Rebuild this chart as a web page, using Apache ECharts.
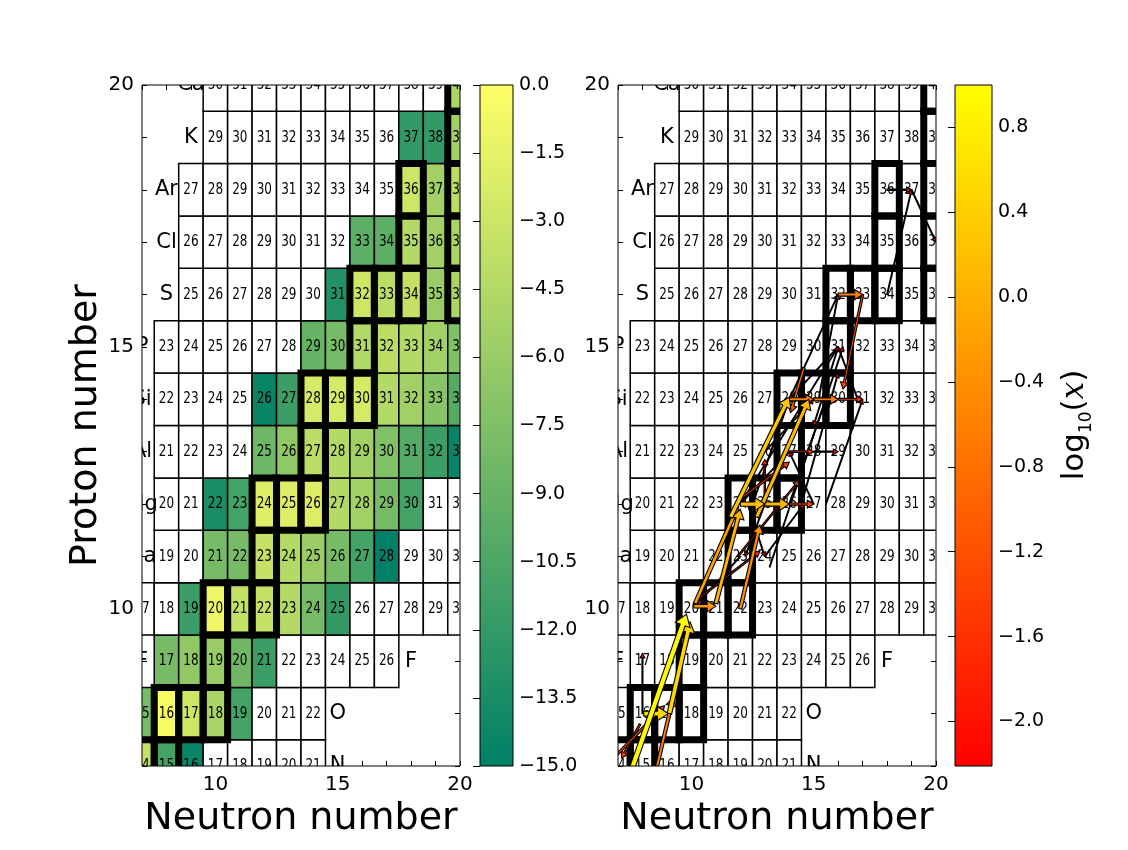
<!DOCTYPE html>
<html>
<head>
<meta charset="utf-8">
<script src="https://cdn.jsdelivr.net/npm/echarts@6/dist/echarts.min.js"></script>
<style>
html, body { margin: 0; padding: 0; background: #fff; }
#chart { width: 1128px; height: 850px; }
</style>
</head>
<body>
<div id="chart"></div>
<script>
// rows of the nuclide chart (proton number, symbol, first neutron number shown)
var rowZ      = [7, 8, 9, 10, 11, 12, 13, 14, 15, 16, 17, 18, 19, 20];
var rowSymbol = ['N', 'O', 'F', 'Ne', 'Na', 'Mg', 'Al', 'Si', 'P', 'S', 'Cl', 'Ar', 'K', 'Ca'];
var rowFirstN = [7, 7, 8, 7, 8, 8, 8, 8, 8, 9, 9, 9, 10, 10];

// log10 abundance per row, one entry per neutron number from rowFirstN (null = not produced)
var logX7  = [-3.5, -11.0, -14.5, null, null, null, null, null];
var logX8  = [-8.0, -0.5, -3.0, -5.0, -11.0, null, null, null];
var logX9  = [-8.0, -6.5, -6.0, -8.5, -11.5, null, null, null, null, null];
var logX10 = [null, null, -11.5, -1.0, -3.5, -3.5, -4.5, -8.0, -12.0, null, null, null, null, null];
var logX11 = [null, null, -8.0, -8.0, -3.5, -4.5, -6.0, -8.0, -11.0, -15.0, null, null, null];
var logX12 = [null, null, -13.5, -11.0, -2.0, -2.0, -2.0, -4.5, -5.5, -8.0, -11.0, null, null];
var logX13 = [null, null, null, null, -8.5, -6.5, -4.0, -4.5, -5.5, -7.5, -10.0, -11.5, -14.5];
var logX14 = [null, null, null, null, -14.5, -11.5, -2.5, -2.5, -2.5, -4.5, -5.5, -7.0, -10.0];
var logX15 = [null, null, null, null, null, null, -9.0, -8.0, -4.5, -4.0, -4.5, -5.5, -7.5];
var logX16 = [null, null, null, null, null, null, -13.0, -3.0, -4.0, -3.5, -6.0, -5.0];
var logX17 = [null, null, null, null, null, null, null, -9.5, -9.5, -4.5, -5.5, -5.0];
var logX18 = [null, null, null, null, null, null, null, null, null, -3.0, -5.5, -4.0];
var logX19 = [null, null, null, null, null, null, null, null, -12.0, -12.0, -5.5];
var logX20 = [null, null, null, null, null, null, null, null, null, null, -5.0];
var logXRows = [logX7, logX8, logX9, logX10, logX11, logX12, logX13, logX14,
                logX15, logX16, logX17, logX18, logX19, logX20];

// stable nuclei (thick boxes)
var stableN = [7, 8, 8, 9, 10, 10, 10, 11, 12, 12, 12, 13, 14, 14, 14, 15, 16, 16, 16, 17, 18, 20, 18, 20, 18, 20, 20, 20];
var stableZ = [7, 7, 8, 8, 8, 9, 10, 10, 10, 11, 12, 12, 12, 13, 14, 14, 14, 15, 16, 16, 16, 16, 17, 17, 18, 18, 19, 20];

// reaction flows: from (N, Z) to (N, Z), log10 of the flow
var flows = [
  [6.85, 6.0, 9.8, 9.9, 0.95],
  [8.05, 8.0, 9.05, 8.0, 0.55],
  [9.1, 8.0, 9.95, 9.75, 0.5],
  [8.0, 8.0, 8.0, 9.15, -2.1],
  [6.5, 7.0, 8.9, 8.15, -1.3],
  [8.5, 6.8, 9.25, 8.3, -0.6],
  [7.9, 7.8, 7.15, 7.15, -1.5],
  [10.1, 10.05, 11.0, 10.05, -0.3],
  [10.15, 10.1, 11.9, 11.95, -0.2],
  [11.0, 10.1, 12.0, 11.9, 0.0],
  [10.3, 10.2, 12.8, 11.1, -1.6],
  [12.0, 10.0, 12.8, 11.6, -0.4],
  [12.0, 11.0, 10.25, 10.1, -2.2],
  [12.3, 12.0, 13.0, 11.0, -2.2],
  [13.0, 12.0, 12.2, 11.0, -2.2],
  [13.0, 11.0, 14.6, 12.0, -2.2],
  [12.0, 12.0, 13.0, 12.0, 0.2],
  [13.0, 12.0, 14.0, 12.0, 0.1],
  [14.0, 12.0, 15.0, 12.0, -1.3],
  [11.6, 11.75, 14.0, 14.04, 0.3],
  [12.67, 11.75, 14.8, 14.0, 0.1],
  [11.9, 11.0, 14.4, 12.45, -1.7],
  [12.0, 12.1, 14.0, 12.8, -1.4],
  [13.0, 12.1, 13.0, 12.85, -1.8],
  [14.0, 13.0, 12.0, 12.0, -2.2],
  [14.0, 13.0, 15.0, 13.0, -1.6],
  [15.0, 13.0, 16.0, 13.0, -2.0],
  [12.5, 12.0, 14.0, 14.0, -2.2],
  [14.0, 12.0, 15.5, 14.0, -2.2],
  [13.0, 13.0, 15.0, 14.0, -2.2],
  [14.5, 12.0, 16.0, 14.5, -2.2],
  [15.0, 12.0, 14.0, 13.0, -2.2],
  [15.5, 12.0, 17.0, 14.0, -2.2],
  [14.0, 14.0, 15.0, 14.0, -0.6],
  [15.0, 14.0, 16.0, 14.0, -0.7],
  [16.0, 14.0, 17.0, 14.0, -1.5],
  [14.6, 14.6, 14.05, 13.75, -1.0],
  [14.0, 14.0, 16.0, 16.0, -2.2],
  [16.0, 15.0, 14.0, 14.0, -2.2],
  [16.0, 15.0, 15.0, 13.5, -2.2],
  [16.8, 14.0, 16.0, 15.0, -2.2],
  [15.2, 14.0, 16.0, 16.0, -2.2],
  [12.0, 12.0, 16.0, 15.0, -2.2],
  [13.2, 10.8, 16.2, 15.0, -2.2],
  [16.0, 16.0, 17.0, 16.0, -0.6],
  [17.0, 16.0, 16.2, 14.2, -1.3],
  [18.0, 16.0, 19.0, 18.0, -2.2],
  [18.0, 18.0, 19.0, 18.0, -1.9],
  [19.0, 18.0, 20.0, 17.0, -2.2]
];

var abundMin = -15, abundMax = 0, abundStep = 1.5;
var flowMin = -2.21, flowMax = 1.0;
var flowTicks = [-2.0, -1.6, -1.2, -0.8, -0.4, 0.0, 0.4, 0.8];

// summer and autumn colour maps
var summer = ['#008066', '#ffff66'];
var autumn = ['#ff0000', '#ffff00'];

// build series data
function buildCells(withValues) {
  var out = [];
  rowZ.forEach(function (z, i) {
    var vals = logXRows[i];
    for (var k = 0; k < vals.length; k++) {
      var n = rowFirstN[i] + k;
      var v = (withValues && vals[k] !== null) ? vals[k] : '-';
      out.push([n, z, n + z, v]);
    }
  });
  return out;
}
var labelData = [], labelText = [];
rowZ.forEach(function (z, i) {
  labelData.push([rowFirstN[i] - 1, z]);
  labelText.push(rowSymbol[i]);
  labelData.push([rowFirstN[i] + logXRows[i].length, z]);
  labelText.push(rowSymbol[i]);
});
var stableData = stableN.map(function (n, i) { return [n, stableZ[i]]; });
var flowData = flows.slice().sort(function (a, b) { return a[4] - b[4]; });

function fmtTick(v) { return v.toFixed(1).replace('-', '\u2212'); }

function cellBox(api, n, z) {
  var p0 = api.coord([n - 0.5, z + 0.5]);
  var p1 = api.coord([n + 0.5, z - 0.5]);
  return { x: p0[0], y: p0[1], width: p1[0] - p0[0], height: p1[1] - p0[1] };
}

function renderCell(params, api) {
  var n = api.value(0), z = api.value(1), v = api.value(3);
  var c = api.coord([n, z]);
  return {
    type: 'group',
    children: [{
      type: 'rect',
      shape: cellBox(api, n, z),
      style: { fill: isNaN(v) ? '#ffffff' : api.visual('color'), stroke: '#000', lineWidth: 1.5 }
    }, {
      type: 'text', x: c[0], y: c[1], scaleX: 0.75,
      style: { text: String(api.value(2)), fill: '#000', fontSize: 16, fontFamily: 'DejaVu Sans',
               align: 'center', verticalAlign: 'middle' }
    }]
  };
}

function renderStable(params, api) {
  return {
    type: 'rect',
    shape: cellBox(api, api.value(0), api.value(1)),
    style: { fill: 'none', stroke: '#000', lineWidth: 7 }
  };
}

function renderLabel(params, api) {
  var c = api.coord([api.value(0), api.value(1)]);
  return {
    type: 'text', x: c[0], y: c[1],
    style: { text: labelText[params.dataIndex], fill: '#000', fontSize: 21, fontFamily: 'DejaVu Sans',
             align: 'center', verticalAlign: 'middle' }
  };
}

// arrow shaped like a matplotlib FancyArrow, width grows with the flow
function renderArrow(params, api) {
  var a = api.coord([api.value(0), api.value(1)]);
  var b = api.coord([api.value(2), api.value(3)]);
  var t = (api.value(4) - flowMin) / (flowMax - flowMin);
  var w = 0.4 + 2.3 * t, hw = 2.5 * w + 1.2, hl = 3.2 * w + 3;
  var dx = b[0] - a[0], dy = b[1] - a[1];
  var L = Math.sqrt(dx * dx + dy * dy) || 1;
  var ux = dx / L, uy = dy / L, px = -uy, py = ux;
  hl = Math.min(hl, L * 0.5);
  var nx = b[0] - ux * hl, ny = b[1] - uy * hl;
  return {
    type: 'polygon',
    shape: { points: [
      [a[0] + px * w, a[1] + py * w], [nx + px * w, ny + py * w], [nx + px * hw, ny + py * hw],
      [b[0], b[1]],
      [nx - px * hw, ny - py * hw], [nx - px * w, ny - py * w], [a[0] - px * w, a[1] - py * w]
    ] },
    style: { fill: api.visual('color'), stroke: '#000', lineWidth: 1.1 }
  };
}

function renderBar(cmin, cmax, colors) {
  return function (params, api) {
    var p0 = api.coord([0, cmax]), p1 = api.coord([1, cmin]);
    return {
      type: 'rect',
      shape: { x: p0[0], y: p0[1], width: p1[0] - p0[0], height: p1[1] - p0[1] },
      style: {
        fill: new echarts.graphic.LinearGradient(0, 0, 0, 1, [
          { offset: 0, color: colors[1] }, { offset: 1, color: colors[0] }
        ]),
        stroke: '#000', lineWidth: 1
      }
    };
  };
}

// axes helpers
function mainX(grid, pos, withName) {
  return {
    type: 'value', gridIndex: grid, position: pos, min: 7, max: 20, interval: 1,
    axisLine: { show: false }, splitLine: { show: false },
    axisTick: { inside: true, length: 5, lineStyle: { color: '#000' } },
    axisLabel: { show: withName, margin: 9, fontSize: 20, color: '#000',
                 formatter: function (v) { return v % 5 === 0 ? String(v) : ''; } },
    name: withName ? 'Neutron number' : '', nameLocation: 'middle', nameGap: 30,
    nameTextStyle: { fontSize: 38, color: '#000' }
  };
}
function mainY(grid, pos, withLabels, name) {
  return {
    type: 'value', gridIndex: grid, position: pos, min: 7, max: 20, interval: 1,
    axisLine: { show: false }, splitLine: { show: false },
    axisTick: { inside: true, length: 5, lineStyle: { color: '#000' } },
    axisLabel: { show: withLabels, margin: 8, fontSize: 20, color: '#000',
                 formatter: function (v) { return v % 5 === 0 ? String(v) : ''; } },
    name: name || '', nameLocation: 'middle', nameRotate: 90, nameGap: 37,
    nameTextStyle: { fontSize: 38, color: '#000' }
  };
}

var chart = echarts.init(document.getElementById('chart'));
chart.setOption({
  backgroundColor: '#ffffff',
  animation: false,
  textStyle: { fontFamily: 'DejaVu Sans' },
  grid: [
    { left: 142, top: 85, width: 318, height: 681, show: true, z: 10, backgroundColor: 'transparent', borderColor: '#000', borderWidth: 1 },
    { left: 618, top: 85, width: 318, height: 681, show: true, z: 10, backgroundColor: 'transparent', borderColor: '#000', borderWidth: 1 },
    { left: 480, top: 85, width: 33, height: 681 },
    { left: 955, top: 85, width: 37, height: 681 }
  ],
  xAxis: [
    mainX(0, 'bottom', true), mainX(0, 'top', false),
    mainX(1, 'bottom', true), mainX(1, 'top', false),
    { type: 'value', gridIndex: 2, min: 0, max: 1, show: false },
    { type: 'value', gridIndex: 3, min: 0, max: 1, show: false }
  ],
  yAxis: [
    mainY(0, 'left', true, 'Proton number'), mainY(0, 'right', false),
    mainY(1, 'left', true), mainY(1, 'right', false),
    {
      type: 'value', gridIndex: 2, position: 'right', min: abundMin, max: abundMax, interval: abundStep, z: 5,
      axisLine: { show: false }, splitLine: { show: false },
      axisTick: { inside: true, length: 7, lineStyle: { color: '#000' } },
      axisLabel: { margin: 6, fontSize: 19, color: '#000', formatter: fmtTick }
    },
    {
      type: 'value', gridIndex: 3, position: 'right', min: flowMin, max: flowMax, z: 5,
      axisLine: { show: false }, splitLine: { show: false },
      axisTick: { inside: true, length: 7, lineStyle: { color: '#000' }, customValues: flowTicks },
      axisLabel: { margin: 6, fontSize: 19, color: '#000', formatter: fmtTick, customValues: flowTicks }
    }
  ],
  visualMap: [
    { type: 'continuous', show: false, seriesIndex: 0, dimension: 3,
      min: abundMin, max: abundMax, inRange: { color: summer } },
    { type: 'continuous', show: false, seriesIndex: 6, dimension: 4,
      min: flowMin, max: flowMax, inRange: { color: autumn } }
  ],
  graphic: [{
    type: 'text', x: 1075, y: 425, rotation: Math.PI / 2,
    style: {
      text: '{a|log}{b|10}{a|(}{c|x}{a|)}',
      align: 'center', verticalAlign: 'middle',
      rich: {
        a: { fontSize: 31, fontFamily: 'DejaVu Sans', fill: '#000', lineHeight: 40 },
        b: { fontSize: 17, fontFamily: 'DejaVu Sans', fill: '#000', lineHeight: 40, verticalAlign: 'bottom' },
        c: { fontSize: 31, fontFamily: 'DejaVu Serif', fontStyle: 'italic', fill: '#000', lineHeight: 40 }
      }
    }
  }],
  series: [
    { type: 'custom', xAxisIndex: 0, yAxisIndex: 0, clip: true, renderItem: renderCell, data: buildCells(true) },
    { type: 'custom', xAxisIndex: 0, yAxisIndex: 0, clip: true, renderItem: renderStable, data: stableData },
    { type: 'custom', xAxisIndex: 0, yAxisIndex: 0, clip: true, renderItem: renderLabel, data: labelData },
    { type: 'custom', xAxisIndex: 2, yAxisIndex: 2, clip: true, renderItem: renderCell, data: buildCells(false) },
    { type: 'custom', xAxisIndex: 2, yAxisIndex: 2, clip: true, renderItem: renderStable, data: stableData },
    { type: 'custom', xAxisIndex: 2, yAxisIndex: 2, clip: true, renderItem: renderLabel, data: labelData },
    { type: 'custom', xAxisIndex: 2, yAxisIndex: 2, clip: true, renderItem: renderArrow, data: flowData },
    { type: 'custom', xAxisIndex: 4, yAxisIndex: 4, renderItem: renderBar(abundMin, abundMax, summer), data: [[0, 0]] },
    { type: 'custom', xAxisIndex: 5, yAxisIndex: 5, renderItem: renderBar(flowMin, flowMax, autumn), data: [[0, 0]] }
  ]
});
</script>
</body>
</html>
